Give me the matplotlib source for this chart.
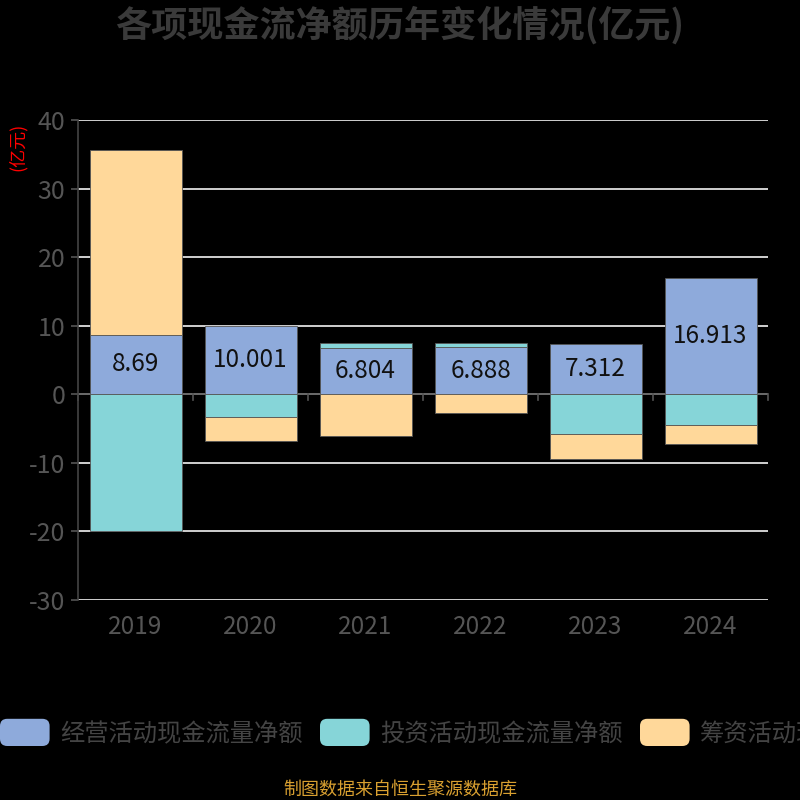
import numpy as np
import matplotlib
matplotlib.use('Agg')
import matplotlib.pyplot as plt
from matplotlib.patches import FancyBboxPatch

plt.rcParams['font.family'] = ['Noto Sans CJK SC', 'DejaVu Sans']
plt.rcParams['axes.unicode_minus'] = False

years = ['2019', '2020', '2021', '2022', '2023', '2024']
series_names = ['经营活动现金流量净额', '投资活动现金流量净额', '筹资活动现金流量净额']
operating = [8.69, 10.001, 6.804, 6.888, 7.312, 16.913]
investing = [-20.0, -3.36, 0.68, 0.62, -5.74, -4.43]
financing = [26.9, -3.5, -6.13, -2.67, -3.75, -2.77]
colors = ['#8eaadb', '#86d5d8', '#ffd89a']

fig = plt.figure(figsize=(8, 8), dpi=100, facecolor='black')
ax = fig.add_axes([0.0975, 0.25, 0.8625, 0.60])
ax.set_facecolor('black')

x = np.arange(len(years))
pos_base = np.zeros(len(years))
neg_base = np.zeros(len(years))
for name, vals, c in zip(series_names, [operating, investing, financing], colors):
    vals = np.array(vals)
    bottom = np.where(vals >= 0, pos_base, neg_base)
    ax.bar(x, vals, 0.8, bottom=bottom, color=c, edgecolor='#555555',
           linewidth=0.6, zorder=3, label=name)
    pos_base = pos_base + np.where(vals >= 0, vals, 0)
    neg_base = neg_base + np.where(vals < 0, vals, 0)

for i, v in enumerate(operating):
    ax.text(x[i], v / 2, f'{v:g}', ha='center', va='center', fontsize=17.5,
            color='#111111', zorder=4)

ax.set_xlim(-0.5, len(years) - 0.5)
ax.set_ylim(-30, 40)
ax.set_yticks(range(-30, 41, 10))
ax.grid(axis='y', color='#e0e0e0', linewidth=1.3, zorder=0)
ax.axhline(0, color='#555555', linewidth=1.2, zorder=2)
for b in np.arange(-0.5, len(years), 1.0):
    ax.plot([b, b], [0, -0.9], color='#555555', linewidth=1.2, zorder=2, clip_on=False)

for s in ['top', 'right', 'bottom']:
    ax.spines[s].set_visible(False)
ax.spines['left'].set_color('#444444')
ax.spines['left'].set_linewidth(1.2)
ax.tick_params(axis='y', colors='#555555', labelsize=18, length=5, width=1.2, pad=4)
ax.tick_params(axis='x', length=0, labelsize=17.5, colors='#555555', pad=10)
ax.set_xticks(x)
ax.set_xticklabels(years)

fig.text(0.022, 0.816, '(亿元)', color='red', fontsize=13, rotation=90,
         ha='center', va='center')
fig.text(0.5, 0.968, '各项现金流净额历年变化情况(亿元)', color='#3a3a3a', fontsize=26,
         fontweight='bold', ha='center', va='center')

# legend drawn by hand
leg_x = [0.0, 0.40, 0.80]
for lx, name, c in zip(leg_x, series_names, colors):
    box = FancyBboxPatch((lx + 0.005, 0.0725), 0.052, 0.024,
                         boxstyle='round,pad=0.005,rounding_size=0.009',
                         transform=fig.transFigure, facecolor=c, edgecolor='none')
    fig.patches.append(box)
    fig.text(lx + 0.075, 0.0825, name, color='#444444', fontsize=17.5, ha='left', va='center')

fig.text(0.5, 0.013, '制图数据来自恒生聚源数据库', color='#d9a030', fontsize=13,
         ha='center', va='center')

fig.savefig('out.png', dpi=100, facecolor='black')
